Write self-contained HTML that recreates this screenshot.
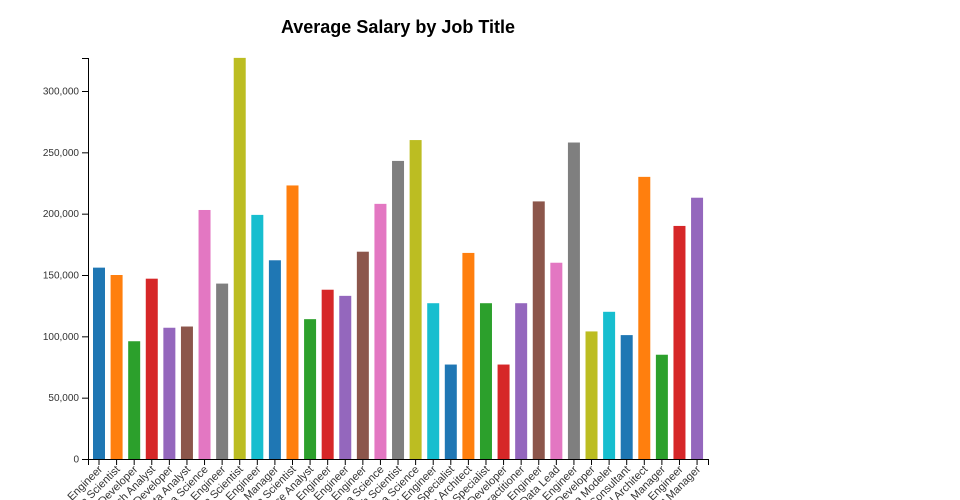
<!DOCTYPE html>
<html><head><meta charset="utf-8"><style>
html,body{margin:0;padding:0;background:#fff;width:960px;height:500px;overflow:hidden}
svg{display:block;font-family:"Liberation Sans",sans-serif;overflow:hidden}
</style></head><body>
<svg width="960" height="500" viewBox="0 0 960 500" id="s">
<text x="398" y="33" text-anchor="middle" font-size="18" font-weight="bold" fill="#000">Average Salary by Job Title</text>
<g id="bars"></g>
<g id="yax" font-size="10" fill="#333"></g>
<g id="xax" font-size="11" fill="#333"></g>
<path d="M82,58.5H88.5V459.5H708.5V465" fill="none" stroke="#000"/>
<path d="M82,459.5H88.5V465" fill="none" stroke="#000"/>
</svg>
<script>
const vals=[156000,150000,96000,147000,107000,108000,203000,143000,327000,199000,162000,223000,114000,138000,133000,169000,208000,243000,260000,127000,77000,168000,127000,77000,127000,210000,160000,258000,104000,120000,101000,230000,85000,190000,213000];
const names=["Data Engineer","Data Scientist","BI Developer","Research Analyst","ML Developer","Data Analyst","Head of Data Science","Analytics Engineer","Applied Data Scientist","Cloud Data Engineer","Data Science Manager","Lead Data Scientist","Data Science Analyst","Big Data Engineer","MLOps Engineer","Research Engineer","Director of Data Science","Research Scientist","Head of Data Science","AI Engineer","Data Specialist","Data Architect","BI Specialist","Power BI Developer","ML Practitioner","Machine Learning Engineer","Data Lead","Applied ML Engineer","ETL Developer","Data Modeler","Data Consultant","Principal Architect","Data Manager","Computer Vision Engineer","Product Manager"];
const cols=["#1f77b4","#ff7f0e","#2ca02c","#d62728","#9467bd","#8c564b","#e377c2","#7f7f7f","#bcbd22","#17becf"];
const NS="http://www.w3.org/2000/svg";
function el(t,a,p,txt){const e=document.createElementNS(NS,t);for(const k in a)e.setAttribute(k,a[k]);if(txt)e.textContent=txt;p.appendChild(e);return e;}
const step=17.59,bw=12,y=v=>459-v*368/300000;
const B=document.getElementById('bars'),X=document.getElementById('xax'),Y=document.getElementById('yax');
vals.forEach((v,i)=>{const x=93+i*step;
el('rect',{x:x,y:y(v),width:bw,height:459-y(v),fill:cols[i%10]},B);
const cx=x+bw/2;
el('line',{x1:cx,x2:cx,y1:459,y2:465,stroke:'#000'},X);
el('text',{transform:`translate(${cx+4},${470}) rotate(-45)`,'text-anchor':'end'},X,names[i]);});
for(let v=0;v<=300000;v+=50000){const yy=y(v);
el('line',{x1:82,x2:88,y1:yy+.5,y2:yy+.5,stroke:'#000'},Y);
el('text',{x:79,y:yy+3.5,'text-anchor':'end'},Y,v.toLocaleString('en-US'));}
</script>
</body></html>
